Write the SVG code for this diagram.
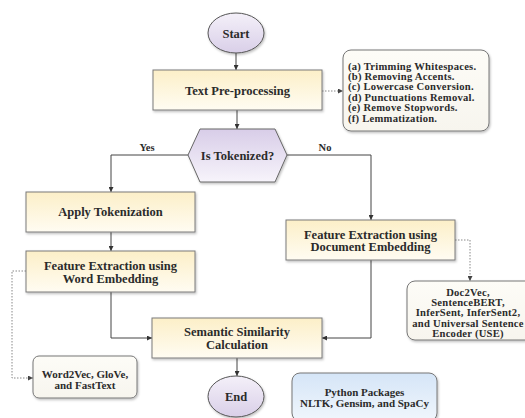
<svg xmlns="http://www.w3.org/2000/svg" width="525" height="418" viewBox="0 0 525 418">
<defs>
<linearGradient id="gBox" x1="0" y1="0" x2="0" y2="1"><stop offset="0" stop-color="#fcefc8"/><stop offset="1" stop-color="#fffcf2"/></linearGradient>
<linearGradient id="gOval" x1="0" y1="0" x2="0" y2="1"><stop offset="0" stop-color="#f4f0f9"/><stop offset="1" stop-color="#d9cfe8"/></linearGradient>
<linearGradient id="gHex" x1="0" y1="0" x2="0" y2="1"><stop offset="0" stop-color="#d8cde8"/><stop offset="1" stop-color="#f7f4fb"/></linearGradient>
<linearGradient id="gNote" x1="0" y1="0" x2="0" y2="1"><stop offset="0" stop-color="#fdfcf7"/><stop offset="1" stop-color="#f7f5ee"/></linearGradient>
<linearGradient id="gBlue" x1="0" y1="0" x2="0" y2="1"><stop offset="0" stop-color="#d5e5f7"/><stop offset="1" stop-color="#f0f6fc"/></linearGradient>
<filter id="sh" x="-10%" y="-10%" width="130%" height="140%"><feDropShadow dx="1" dy="1.5" stdDeviation="1.2" flood-color="#000" flood-opacity="0.25"/></filter>
<marker id="ah" viewBox="0 0 10 10" refX="10" refY="5" markerWidth="5" markerHeight="5" markerUnits="userSpaceOnUse" orient="auto"><path d="M0,0 L10,5 L0,10 z" fill="#333"/></marker>
<marker id="ahd" viewBox="0 0 10 10" refX="10" refY="5" markerWidth="5" markerHeight="5" markerUnits="userSpaceOnUse" orient="auto"><path d="M0,0 L10,5 L0,10 z" fill="#444"/></marker>
</defs>
<style>
text{font-family:"Liberation Serif","DejaVu Serif",serif;font-weight:bold;fill:#2b2b2b}
.lbl{font-size:12.5px;text-anchor:middle}
.sm{font-size:11px;text-anchor:middle}
.lst{font-size:10.6px;letter-spacing:0.25px}
.dm{font-size:10.6px;letter-spacing:0.25px;text-anchor:middle}
.box{fill:url(#gBox);stroke:#7a7a7a;stroke-width:1;filter:url(#sh)}
.oval{fill:url(#gOval);stroke:#555;stroke-width:1;filter:url(#sh)}
.hex{fill:url(#gHex);stroke:#666;stroke-width:1;filter:url(#sh)}
.note{fill:url(#gNote);stroke:#777;stroke-width:1;filter:url(#sh)}
.blue{fill:url(#gBlue);stroke:#777;stroke-width:1;filter:url(#sh)}
.c{fill:none;stroke:#444;stroke-width:1;marker-end:url(#ah)}
.d{fill:none;stroke:#888;stroke-width:1;stroke-dasharray:1.5 1.5;marker-end:url(#ahd)}
</style>
<g id="connectors">
<path class="c" d="M236,53 V70"/>
<path class="d" d="M322,91 H343"/>
<path class="c" d="M237,110 V129"/>
<path class="c" d="M188,155 H111 V192"/>
<path class="c" d="M287,155 H371 V220"/>
<path class="c" d="M111,232 V251"/>
<path class="c" d="M111,292 V338 H152"/>
<path class="d" d="M26,271 H12 V378 H33"/>
<path class="d" d="M455,240 H470 V281"/>
<path class="c" d="M371,260 V338 H322"/>
<path class="c" d="M237,358 V376"/>
<text class="sm" x="147" y="150.5" style="font-size:10.5px">Yes</text>
<text class="sm" x="325" y="150.5" style="font-size:10.5px">No</text>
</g>
<g id="start">
<ellipse class="oval" cx="236" cy="33" rx="28" ry="20"/>
<text class="lbl" x="236" y="37.5">Start</text>
</g>
<g id="preprocessing">
<rect class="box" x="153" y="70" width="169" height="40"/>
<text class="lbl" x="237.5" y="95">Text Pre-processing</text>
</g>
<g id="steps">
<rect class="note" x="343" y="50" width="146" height="81" rx="8"/>
<text class="lst"><tspan x="348" y="69.5">(a) Trimming Whitespaces.</tspan><tspan x="348" y="79.9">(b) Removing Accents.</tspan><tspan x="348" y="90.3">(c) Lowercase Conversion.</tspan><tspan x="348" y="100.7">(d) Punctuations Removal.</tspan><tspan x="348" y="111.1">(e) Remove Stopwords.</tspan><tspan x="348" y="121.5">(f) Lemmatization.</tspan></text>
</g>
<g id="decision">
<polygon class="hex" points="188,155 200,129 275,129 287,155 275,182 200,182"/>
<text class="lbl" x="237.5" y="159.5">Is Tokenized?</text>
</g>
<g id="tokenization">
<rect class="box" x="26" y="192" width="169" height="40"/>
<text class="lbl" x="110.5" y="216">Apply Tokenization</text>
</g>
<g id="word-embedding">
<rect class="box" x="26" y="251" width="169" height="41"/>
<text class="lbl"><tspan x="110.5" y="270">Feature Extraction using</tspan><tspan x="110.5" y="282.5">Word Embedding</tspan></text>
</g>
<g id="doc-embedding">
<rect class="box" x="286" y="220" width="169" height="40"/>
<text class="lbl"><tspan x="370.5" y="238.5">Feature Extraction using</tspan><tspan x="370.5" y="251">Document Embedding</tspan></text>
</g>
<g id="similarity">
<rect class="box" x="152" y="318" width="170" height="40"/>
<text class="lbl"><tspan x="237" y="336">Semantic Similarity</tspan><tspan x="237" y="348.5">Calculation</tspan></text>
</g>
<g id="end">
<ellipse class="oval" cx="236" cy="396.5" rx="28" ry="20.5"/>
<text class="lbl" x="236" y="401">End</text>
</g>
<g id="word-models">
<rect class="note" x="33" y="356" width="104" height="42" rx="6"/>
<text class="sm"><tspan x="85" y="378">Word2Vec, GloVe,</tspan><tspan x="85" y="388.5">and FastText</tspan></text>
</g>
<g id="doc-models">
<rect class="note" x="407" y="281" width="130" height="59" rx="8"/>
<text class="dm"><tspan x="468" y="295.5">Doc2Vec,</tspan><tspan x="468" y="305.9">SentenceBERT,</tspan><tspan x="468" y="316.3">InferSent, InferSent2,</tspan><tspan x="468" y="326.7">and Universal Sentence</tspan><tspan x="468" y="337.1">Encoder (USE)</tspan></text>
</g>
<g id="packages">
<rect class="blue" x="292" y="373" width="145" height="48" rx="8"/>
<text class="sm"><tspan x="364.5" y="396">Python Packages</tspan><tspan x="364.5" y="407">NLTK, Gensim, and SpaCy</tspan></text>
</g>
</svg>
